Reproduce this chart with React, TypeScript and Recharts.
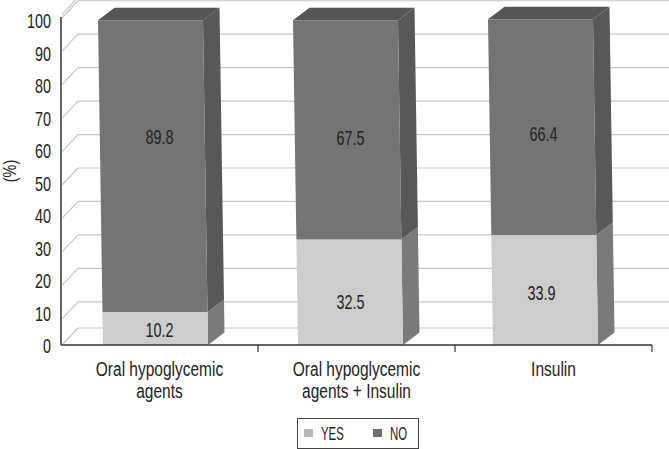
import React from 'react';
import { BarChart, Bar, XAxis, YAxis, CartesianGrid, Legend, LabelList } from 'recharts';

const categories = ['Oral hypoglycemic agents', 'Oral hypoglycemic agents + Insulin', 'Insulin'];
const categoryLines = [['Oral hypoglycemic', 'agents'], ['Oral hypoglycemic', 'agents + Insulin'], ['Insulin']];
const yesValues = [10.2, 32.5, 33.9];
const noValues = [89.8, 67.5, 66.4];
const yTicks = [0, 10, 20, 30, 40, 50, 60, 70, 80, 90, 100];

const yesNudge = [[0, 2], [-6, 10], [-12, 3]];
const noNudge = [[0, -29], [-6, 8], [-10, 7]];

const data = categories.map((name, i) => ({ name, YES: yesValues[i], NO: noValues[i] }));

const FONT = '"Liberation Sans", sans-serif';
const TEXT = '#222';
const FLOOR_Y = 345;
const LEFT = 61;
const DEPTH_X = 16.5;
const DEPTH_Y = 12.5;

const Narrow = ({ x, y, anchor = 'middle', rotate = 0, size = 20, squeeze = 0.72, children }: any) => (
  <text
    transform={`translate(${x} ${y}) rotate(${rotate}) scale(${squeeze} 1)`}
    textAnchor={anchor}
    fontFamily={FONT}
    fontSize={size}
    fill={TEXT}
  >
    {children}
  </text>
);

const slant = (y: number) => -((FLOOR_Y - y) * 5) / 325;
const shift = (i: number) => -4 - 2 * i;

const pts = (list: number[][]) => list.map((p) => p.join(',')).join(' ');

const make3D = (front: string, side: string, top?: string) => (props: any) => {
  const { x, y, width, height, index } = props;
  const s = shift(index);
  const yT = y;
  const yB = y + height;
  const tl = [x + s + slant(yT), yT];
  const tr = [x + s + slant(yT) + width, yT];
  const bl = [x + s + slant(yB), yB];
  const br = [x + s + slant(yB) + width, yB];
  const d = (p: number[]) => [p[0] + DEPTH_X, p[1] - DEPTH_Y];
  return (
    <g>
      {top ? <polygon points={pts([tl, tr, d(tr), d(tl)])} fill={top} /> : null}
      <polygon points={pts([tr, br, d(br), d(tr)])} fill={side} />
      <polygon points={pts([tl, tr, br, bl])} fill={front} />
    </g>
  );
};

const backY = (y: number) => (y >= FLOOR_Y - 0.5 ? y - 17 : (y - 20) * 1.03 + 0.5);

const gridLine = (props: any) => {
  const y = props.y1;
  const b = backY(y);
  return (
    <g key={`g-${props.index}-${y}`}>
      <line x1={LEFT + 1} y1={b + 17} x2={LEFT + 17} y2={b} stroke="#c6c6c6" strokeWidth={1.2} />
      <line x1={LEFT + 17} y1={b} x2={669} y2={b} stroke="#c6c6c6" strokeWidth={1.2} />
    </g>
  );
};

const XTick = (props: any) => {
  const { x, payload, index } = props;
  const half = payload.offset || 98.5;
  return (
    <g>
      <line x1={x + half} y1={FLOOR_Y} x2={x + half} y2={FLOOR_Y + 7} stroke="#333" strokeWidth={1.2} />
      {categoryLines[index].map((t, i) => (
        <Narrow key={t} x={x} y={376 + i * 22} squeeze={0.775}>
          {t}
        </Narrow>
      ))}
    </g>
  );
};

const YTick = (props: any) => (
  <Narrow x={props.x} y={props.y + 8} anchor="end">
    {props.payload.value}
  </Narrow>
);

const valueLabel = (nudge: number[][]) => (props: any) => {
  const vb = props.viewBox ?? props;
  const n = nudge[props.index] ?? [0, 0];
  return (
    <Narrow x={vb.x + vb.width / 2 + n[0]} y={vb.y + vb.height / 2 + n[1] + 7}>
      {props.value}
    </Narrow>
  );
};

const AxisTitle = (props: any) => (
  <Narrow x={16} y={props.viewBox.y + props.viewBox.height / 2 - 10} rotate={-90} size={18} squeeze={0.8}>
    (%)
  </Narrow>
);

const LegendBox = (props: any) => {
  const colors: Record<string, string> = { YES: '#b8b8b8', NO: '#6e6e6e' };
  const textX: Record<string, number> = { YES: 24, NO: 93 };
  const iconX: Record<string, number> = { YES: 7, NO: 76 };
  return (
    <svg width={122} height={31} style={{ display: 'block' }}>
      <rect x={0.5} y={0.5} width={121} height={30} fill="#fff" stroke="#444" />
      {(props.payload ?? []).map((e: any) => (
        <g key={e.value}>
          <rect x={iconX[e.value]} y={11} width={9} height={8} fill={colors[e.value]} />
          <Narrow x={textX[e.value]} y={22} anchor="start" size={19} squeeze={0.6}>
            {e.value}
          </Narrow>
        </g>
      ))}
    </svg>
  );
};

export default function App() {
  return (
    <div style={{ position: 'absolute', left: 0, top: 0, width: 669, height: 449, background: '#fff' }}>
      <BarChart width={669} height={449} data={data} margin={{ top: 17, right: 17, bottom: 0, left: 0 }} barSize={105}>
        <CartesianGrid vertical={false} horizontal={gridLine} />
        <XAxis
          dataKey="name"
          interval={0}
          height={104}
          tick={<XTick />}
          tickLine={false}
          axisLine={{ stroke: '#333', strokeWidth: 1.5 }}
        />
        <YAxis
          width={61}
          domain={[0, 101]}
          ticks={yTicks}
          interval={0}
          tickLine={false}
          tickSize={0}
          tickMargin={10}
          axisLine={{ stroke: '#333', strokeWidth: 1.5 }}
          tick={<YTick />}
          label={<AxisTitle />}
        />
        <Legend
          verticalAlign="middle"
          content={<LegendBox />}
          wrapperStyle={{ left: 297, top: 418, width: 122, height: 31, bottom: 'auto' }}
        />
        <Bar dataKey="YES" stackId="a" isAnimationActive={false} fill="#b8b8b8" shape={make3D('#cdcdcd', '#7a7a7a')}>
          <LabelList dataKey="YES" content={valueLabel(yesNudge)} />
        </Bar>
        <Bar dataKey="NO" stackId="a" isAnimationActive={false} fill="#6e6e6e" shape={make3D('#747474', '#585858', '#555555')}>
          <LabelList dataKey="NO" content={valueLabel(noNudge)} />
        </Bar>
      </BarChart>
    </div>
  );
}
